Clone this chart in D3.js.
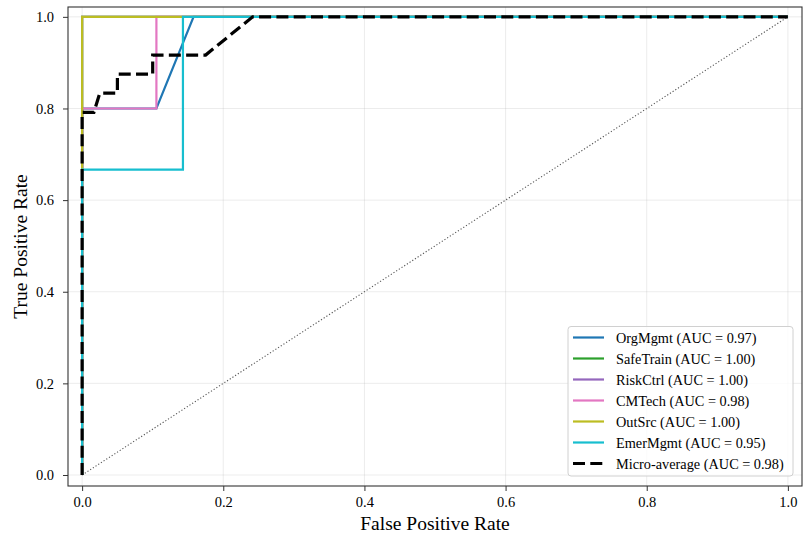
<!DOCTYPE html>
<html>
<head>
<meta charset="utf-8">
<script src="https://cdn.jsdelivr.net/npm/d3@7"></script>
<style>
  html, body { margin: 0; padding: 0; background: #fff; }
  svg text { font-family: "Liberation Serif", "Times New Roman", serif; fill: #000; }
</style>
</head>
<body>
<svg id="chart" width="805" height="536"></svg>
<script>
// ROC curves per category, plus the micro-averaged curve
const classNames = ["OrgMgmt", "SafeTrain", "RiskCtrl", "CMTech", "OutSrc", "EmerMgmt"];
const classColors = ["#1f77b4", "#2ca02c", "#9467bd", "#e377c2", "#bcbd22", "#17becf"];
const classAUC = [0.97, 1.00, 1.00, 0.98, 1.00, 0.95];

const fprOrgMgmt   = [0, 0, 2/19, 3/19, 1];
const tprOrgMgmt   = [0, 0.8, 0.8, 1, 1];
const fprSafeTrain = [0, 0, 1];
const tprSafeTrain = [0, 1, 1];
const fprRiskCtrl  = [0, 0, 1];
const tprRiskCtrl  = [0, 1, 1];
const fprCMTech    = [0, 0, 2/19, 2/19, 1];
const tprCMTech    = [0, 0.8, 0.8, 1, 1];
const fprOutSrc    = [0, 0, 1];
const tprOutSrc    = [0, 1, 1];
const fprEmerMgmt  = [0, 0, 3/21, 3/21, 1];
const tprEmerMgmt  = [0, 2/3, 2/3, 1, 1];

const fprMicro = [0, 0, 2/120, 3/120, 6/120, 6/120, 12/120, 12/120, 21/120, 29/120, 1];
const tprMicro = [0, 19/24, 19/24, 20/24, 20/24, 21/24, 21/24, 22/24, 22/24, 1, 1];
const microAUC = 0.98;

const xTicks = [0, 0.2, 0.4, 0.6, 0.8, 1.0];
const yTicks = [0, 0.2, 0.4, 0.6, 0.8, 1.0];

const classFpr = [fprOrgMgmt, fprSafeTrain, fprRiskCtrl, fprCMTech, fprOutSrc, fprEmerMgmt];
const classTpr = [tprOrgMgmt, tprSafeTrain, tprRiskCtrl, tprCMTech, tprOutSrc, tprEmerMgmt];

const svg = d3.select("#chart");
const plotL = 68, plotR = 802, plotT = 7, plotB = 486;

const x = d3.scaleLinear().domain([-0.02, 1.02]).range([plotL, plotR]);
const y = d3.scaleLinear().domain([-0.024, 1.0215]).range([plotB, plotT]);

// grid
const grid = svg.append("g");
grid.selectAll("line.gx").data(xTicks).join("line")
  .attr("x1", d => x(d)).attr("x2", d => x(d))
  .attr("y1", plotT).attr("y2", plotB)
  .attr("stroke", "#b0b0b0").attr("stroke-opacity", 0.3).attr("stroke-width", 0.8);
grid.selectAll("line.gy").data(yTicks).join("line")
  .attr("y1", d => y(d)).attr("y2", d => y(d))
  .attr("x1", plotL).attr("x2", plotR)
  .attr("stroke", "#b0b0b0").attr("stroke-opacity", 0.3).attr("stroke-width", 0.8);

// chance diagonal
svg.append("line")
  .attr("x1", x(0)).attr("y1", y(0)).attr("x2", x(1)).attr("y2", y(1))
  .attr("stroke", "#555").attr("stroke-width", 1.1).attr("stroke-dasharray", "1.2,2");

const line = d3.line().x(d => x(d[0])).y(d => y(d[1]));

const plot = svg.append("g");
classNames.forEach((name, i) => {
  const pts = classFpr[i].map((f, j) => [f, classTpr[i][j]]);
  plot.append("path").datum(pts)
    .attr("d", line)
    .attr("fill", "none")
    .attr("stroke", classColors[i])
    .attr("stroke-width", 2.2);
});

const microPts = fprMicro.map((f, j) => [f, tprMicro[j]]);
plot.append("path").datum(microPts)
  .attr("d", line)
  .attr("fill", "none")
  .attr("stroke", "#000")
  .attr("stroke-width", 3.2)
  .attr("stroke-dasharray", "12,5.3");

// axes
const xAxis = d3.axisBottom(x).tickValues(xTicks).tickFormat(d3.format(".1f")).tickSize(5).tickPadding(6);
const yAxis = d3.axisLeft(y).tickValues(yTicks).tickFormat(d3.format(".1f")).tickSize(5).tickPadding(9);

const gx = svg.append("g").attr("transform", `translate(0,${plotB})`).call(xAxis);
const gy = svg.append("g").attr("transform", `translate(${plotL},0)`).call(yAxis);
[gx, gy].forEach(g => {
  g.select(".domain").remove();
  g.selectAll("line").attr("stroke", "#333").attr("stroke-width", 1);
  g.selectAll("text").attr("font-size", 14.5).attr("font-family", "Liberation Serif").attr("fill", "#000");
});

// frame
svg.append("rect")
  .attr("x", plotL).attr("y", plotT).attr("width", plotR - plotL).attr("height", plotB - plotT)
  .attr("fill", "none").attr("stroke", "#333").attr("stroke-width", 1.1);

// axis titles
svg.append("text")
  .attr("x", (plotL + plotR) / 2).attr("y", 530)
  .attr("text-anchor", "middle").attr("font-size", 19.5)
  .text("False Positive Rate");
svg.append("text")
  .attr("transform", `translate(27,${(plotT + plotB) / 2}) rotate(-90)`)
  .attr("text-anchor", "middle").attr("font-size", 19.5)
  .text("True Positive Rate");

// legend
const legendItems = classNames.map((n, i) => ({
  label: `${n} (AUC = ${classAUC[i].toFixed(2)})`, color: classColors[i], dash: null, w: 2.2
}));
legendItems.push({ label: `Micro-average (AUC = ${microAUC.toFixed(2)})`, color: "#000", dash: "12,5.3", w: 3.2 });

const lg = svg.append("g");
lg.append("rect")
  .attr("x", 568).attr("y", 326.5).attr("width", 225).attr("height", 149.5)
  .attr("rx", 3).attr("fill", "#fff").attr("fill-opacity", 0.8)
  .attr("stroke", "#d0d0d0").attr("stroke-width", 1);
legendItems.forEach((it, i) => {
  const yy = 337.5 + i * 21;
  lg.append("line")
    .attr("x1", 573).attr("x2", 604).attr("y1", yy).attr("y2", yy)
    .attr("stroke", it.color).attr("stroke-width", it.w)
    .attr("stroke-dasharray", it.dash);
  lg.append("text")
    .attr("x", 616).attr("y", yy + 5)
    .attr("font-size", 14.3)
    .text(it.label);
});
</script>
</body>
</html>
